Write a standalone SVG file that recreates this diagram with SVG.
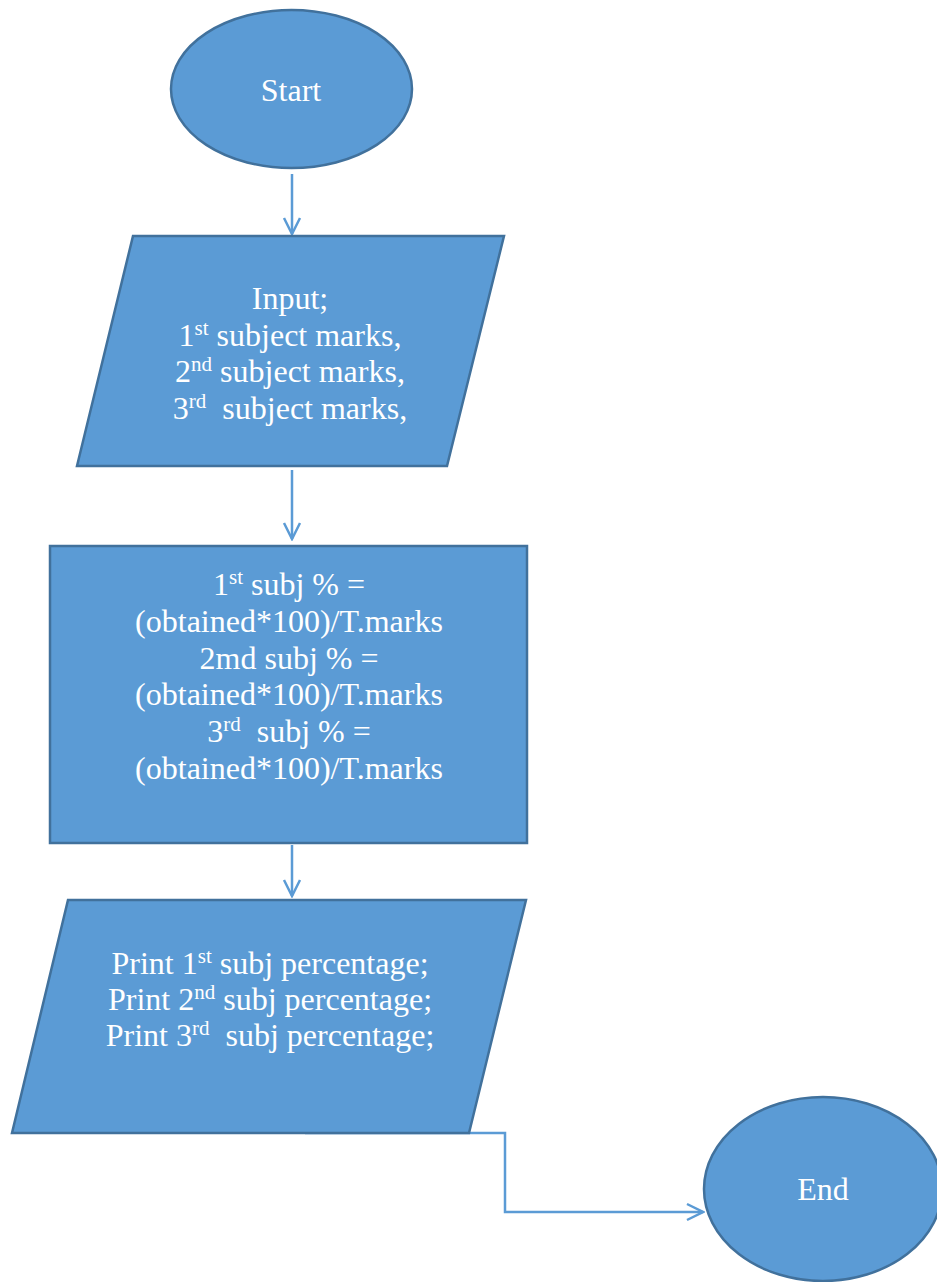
<svg xmlns="http://www.w3.org/2000/svg" width="937" height="1282" viewBox="0 0 937 1282">
  <style>
    .shape { fill: #5B9BD5; stroke: #41719C; stroke-width: 2.5; }
    .lbl { font-family: "Liberation Serif", "Times New Roman", serif; font-size: 32px; fill: #FFFFFF; text-anchor: middle; white-space: pre; }
    .sup { font-size: 21px; }
    .conn { fill: none; stroke: #5B9BD5; stroke-width: 2.5; }
  </style>
  <defs>
    <marker id="arrow" viewBox="0 0 20 20" refX="18" refY="10" markerWidth="20" markerHeight="20" markerUnits="userSpaceOnUse" orient="auto">
      <path d="M2,2 L18,10 L2,18" fill="none" stroke="#5B9BD5" stroke-width="2.5"/>
    </marker>
  </defs>

  <g id="connectors">
    <line class="conn" x1="292" y1="174" x2="292" y2="234" marker-end="url(#arrow)"/>
    <line class="conn" x1="292" y1="470" x2="292" y2="539" marker-end="url(#arrow)"/>
    <line class="conn" x1="292" y1="845" x2="292" y2="896" marker-end="url(#arrow)"/>
    <polyline class="conn" points="305,1133 505,1133 505,1212 703,1212" marker-end="url(#arrow)"/>
  </g>

  <g id="start">
    <ellipse class="shape" cx="291.5" cy="89" rx="120.5" ry="79"/>
    <text class="lbl" x="291" y="101">Start</text>
  </g>

  <g id="input">
    <polygon class="shape" points="133,236 504,236 447,466 77,466"/>
    <text class="lbl" x="290" y="309">Input;</text>
    <text class="lbl" x="290" y="346">1<tspan class="sup" dy="-11">st</tspan><tspan dy="11"> subject marks,</tspan></text>
    <text class="lbl" x="290" y="382">2<tspan class="sup" dy="-11">nd</tspan><tspan dy="11"> subject marks,</tspan></text>
    <text class="lbl" x="290" y="419">3<tspan class="sup" dy="-11">rd</tspan><tspan dy="11">  subject marks,</tspan></text>
  </g>

  <g id="compute">
    <rect class="shape" x="50" y="546" width="477" height="297"/>
    <text class="lbl" x="289" y="595">1<tspan class="sup" dy="-11">st</tspan><tspan dy="11"> subj % =</tspan></text>
    <text class="lbl" x="289" y="632">(obtained*100)/T.marks</text>
    <text class="lbl" x="289" y="669">2md subj % =</text>
    <text class="lbl" x="289" y="705">(obtained*100)/T.marks</text>
    <text class="lbl" x="289" y="742">3<tspan class="sup" dy="-11">rd</tspan><tspan dy="11">  subj % =</tspan></text>
    <text class="lbl" x="289" y="779">(obtained*100)/T.marks</text>
  </g>

  <g id="print">
    <polygon class="shape" points="68,900 526,900 469,1133 12,1133"/>
    <text class="lbl" x="270" y="974">Print 1<tspan class="sup" dy="-11">st</tspan><tspan dy="11"> subj percentage;</tspan></text>
    <text class="lbl" x="270" y="1010">Print 2<tspan class="sup" dy="-11">nd</tspan><tspan dy="11"> subj percentage;</tspan></text>
    <text class="lbl" x="270" y="1046">Print 3<tspan class="sup" dy="-11">rd</tspan><tspan dy="11">  subj percentage;</tspan></text>
  </g>

  <g id="end">
    <ellipse class="shape" cx="823" cy="1189" rx="119" ry="92"/>
    <text class="lbl" x="823" y="1200">End</text>
  </g>
</svg>
